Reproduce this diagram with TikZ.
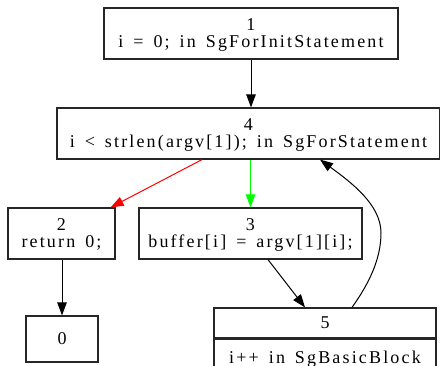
\documentclass[tikz,border=0pt]{standalone}
\usepackage{fontspec}
\setmainfont{Liberation Serif}[LetterSpace=12,WordSpace=1.5]
\usetikzlibrary{arrows.meta}
\definecolor{gvgreen}{RGB}{0,255,0}
\definecolor{gvred}{RGB}{255,0,0}
\newcommand\gvtop{\rule{0pt}{14pt}}
\newcommand\gvbot{\rule[-3pt]{0pt}{3pt}}
\begin{document}
\begin{tikzpicture}[x=1pt,y=-1pt,
  box/.style={draw=black!85, line width=1.2pt, inner sep=0pt, align=center,
    font=\fontsize{18}{17}\selectfont},
  edge/.style={draw=black, line width=1pt, -{Triangle[length=13pt,width=9.5pt]}}]
\clip (0,0) rectangle (440,366);
\fill[white] (0,0) rectangle (440,366);
\node[box, minimum width=294pt, minimum height=51pt] (n1) at (251,33.5)
  {\gvtop 1\\ i = 0; in SgForInitStatement\gvbot};
\node[box, minimum width=383pt, minimum height=51pt] (n4) at (248.5,133.5)
  {\gvtop 4\\ i < strlen(argv[1]); in SgForStatement\gvbot};
\node[box, minimum width=107pt, minimum height=51pt] (n2) at (61.5,233.5)
  {\gvtop 2\\ return 0;\gvbot};
\node[box, minimum width=223pt, minimum height=51pt] (n3) at (250.5,233.5)
  {\gvtop 3\\ buffer[i] = argv[1][i];\gvbot};
\node[box, minimum width=72pt, minimum height=46pt] (n0) at (62,339) {0};
\node[box, minimum width=222pt, minimum height=30pt] (n5) at (325,323) {5};
\node[box, minimum width=222pt, minimum height=40pt, anchor=north] (n5b) at (n5.south)
  {i++ in SgBasicBlock};
\draw[edge] (n1.south) -- (n1.south |- n4.north);
\draw[edge, draw=gvred, -{Triangle[length=13pt,width=9.5pt,fill=gvred]}]
  ([xshift=-46.5pt]n4.south) -- ([xshift=-5pt]n2.north east);
\draw[edge, draw=gvgreen, -{Triangle[length=13pt,width=9.5pt,fill=gvgreen]}]
  (n3.north |- n4.south) -- (n3.north);
\draw[edge] (n0.north |- n2.south) -- (n0.north);
\draw[edge] ([xshift=17.5pt]n3.south) -- ([xshift=-20pt]n5.north);
\draw[edge] ([xshift=27pt]n5.north) .. controls (368,285) and (381,260) .. (381,233)
  .. controls (381,205) and (352,183) .. ([xshift=71.5pt]n4.south);
\end{tikzpicture}
\end{document}
